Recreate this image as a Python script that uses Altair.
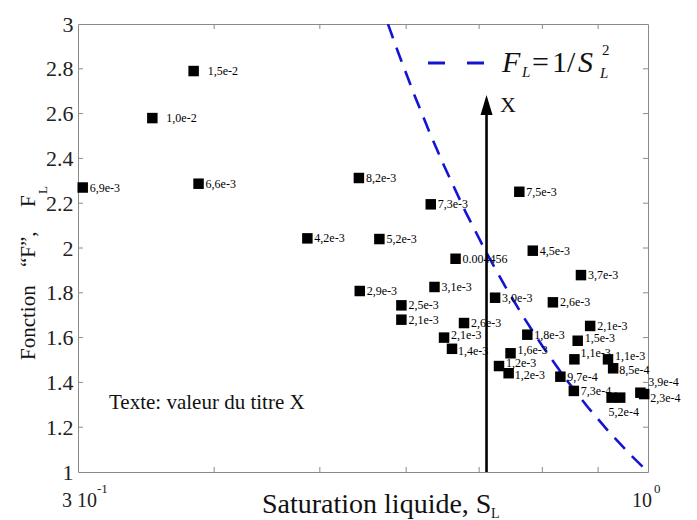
import altair as alt
import pandas as pd

# ---------------- data ----------------
S_L = [0.383, 0.351, 0.303, 0.387, 0.543, 0.487, 0.567, 0.632, 0.762, 0.784,
       0.666, 0.868, 0.544, 0.637, 0.724, 0.818, 0.594, 0.594, 0.678, 0.885,
       0.650, 0.661, 0.775, 0.862, 0.748, 0.856, 0.919, 0.929, 0.730, 0.745,
       0.831, 0.855, 0.926, 0.943, 0.984, 0.992]
F_L = [2.79, 2.58, 2.27, 2.287, 2.3125, 2.043, 2.04, 2.195, 2.251, 1.988,
       1.952, 1.879, 1.808, 1.826, 1.778, 1.7575, 1.744, 1.680, 1.665, 1.652,
       1.600, 1.550, 1.613, 1.586, 1.530, 1.503, 1.503, 1.463, 1.473, 1.441,
       1.4255, 1.362, 1.332, 1.332, 1.354, 1.348]
TITRE_X = ["1,5e-2", "1,0e-2", "6,9e-3", "6,6e-3", "8,2e-3", "4,2e-3", "5,2e-3",
           "7,3e-3", "7,5e-3", "4,5e-3", "0.004456", "3,7e-3", "2,9e-3", "3,1e-3",
           "3,0e-3", "2,6e-3", "2,5e-3", "2,1e-3", "2,6e-3", "2,1e-3", "2,1e-3",
           "1,4e-3", "1,8e-3", "1,5e-3", "1,6e-3", "1,1e-3", "1,1e-3", "8,5e-4",
           "1,2e-3", "1,2e-3", "9,7e-4", "7,3e-4", "5,2e-4", "", "3,9e-4", "2,3e-4"]
LABEL_SIDE = ["far", "far", "r", "r", "r", "r", "r", "r", "r", "r",
              "r", "r", "r", "r", "r", "r", "r", "r", "r", "r",
              "hi", "lo", "r", "hi", "hi", "up6", "hi", "lo", "hi", "lo",
              "r", "r", "down", "r", "up", "lo3"]

# theoretical curve F_L = 1/S_L^2, sampled S values
CURVE_S = [0.5774, 0.59, 0.61, 0.63, 0.65, 0.68, 0.71, 0.74, 0.77, 0.80,
           0.84, 0.88, 0.92, 0.96, 1.0]

ARROW_S = 0.711
ARROW_F0, ARROW_F1, ARROW_HEAD = 1.0, 2.6, 2.638

X_MINOR = [0.4, 0.5, 0.6, 0.7, 0.8, 0.9]
Y_MINOR = [1.2, 1.4, 1.6, 1.8, 2.0, 2.2, 2.4, 2.6, 2.8]
Y_LABELS = [1.0, 1.2, 1.4, 1.6, 1.8, 2.0, 2.2, 2.4, 2.6, 2.8, 3.0]
X_LABEL_S = [0.3, 1.0]
X_LABEL_BASE = ["3 10", "10"]
X_LABEL_EXP = ["-1", "0"]

# ---------------- chart ----------------
W, H = 570, 448
SERIF = "Liberation Serif"
BLUE = "#1414d2"
GRAY = "#8a8a8a"

xs = alt.Scale(type="log", domain=[0.3, 1.0], nice=False)
ys = alt.Scale(domain=[1, 3], nice=False, zero=False)
Y_AXIS = alt.Axis(values=Y_LABELS, format="~g", ticks=False, domain=False,
                  grid=False, title=None, labelFont=SERIF, labelFontSize=22,
                  labelColor="#222", labelPadding=5)


def X(field):
    return alt.X(field, scale=xs, axis=None)


def Y(field):
    return alt.Y(field, scale=ys, axis=Y_AXIS)


pts = pd.DataFrame({"S": S_L, "F": F_L, "label": TITRE_X, "side": LABEL_SIDE})
base = alt.Chart(pts)

squares = base.mark_square(size=110, color="black", opacity=1).encode(
    x=X("S:Q"), y=Y("F:Q"))

side_offsets = {"r": (7, 0), "far": (14, 0), "up": (8, -11), "up6": (6, -6),
                "down": (-3, 14), "hi": (7, -3), "lo": (6, 2), "lo3": (6, 4)}
label_layers = []
for side, (dx, dy) in side_offsets.items():
    label_layers.append(
        base.transform_filter(alt.datum.side == side).mark_text(
            align="left", baseline="middle", dx=dx, dy=dy, font=SERIF,
            fontSize=12, color="black").encode(
            x=X("S:Q"), y=Y("F:Q"), text="label:N")
    )

curve = alt.Chart(pd.DataFrame({"S": CURVE_S})).transform_calculate(
    F="1 / (datum.S * datum.S)"
).mark_line(color=BLUE, strokeWidth=2.6, strokeDash=[15, 10], clip=True).encode(
    x=X("S:Q"), y=Y("F:Q"))

arrow_df = pd.DataFrame({"S": [ARROW_S], "F0": [ARROW_F0], "F1": [ARROW_F1],
                         "Fh": [ARROW_HEAD]})
arrow_line = alt.Chart(arrow_df).mark_rule(color="black", strokeWidth=2.6).encode(
    x=X("S:Q"), y=Y("F0:Q"), y2="F1:Q")
arrow_head = alt.Chart(arrow_df).mark_point(
    shape="M0,-1L0.6,1L-0.6,1Z", size=400, filled=True, color="black", opacity=1
).encode(x=X("S:Q"), y=Y("Fh:Q"))

# inner ticks (MATLAB style) on all four sides
xt = alt.Chart(pd.DataFrame({"S": X_MINOR}))
yt = alt.Chart(pd.DataFrame({"F": Y_MINOR}))
tick_style = dict(color=GRAY, strokeWidth=1)
ticks = [
    xt.mark_rule(**tick_style).encode(x=X("S:Q"), y=alt.value(H), y2=alt.value(H - 5)),
    xt.mark_rule(**tick_style).encode(x=X("S:Q"), y=alt.value(0), y2=alt.value(5)),
    yt.mark_rule(**tick_style).encode(y=Y("F:Q"), x=alt.value(0), x2=alt.value(5)),
    yt.mark_rule(**tick_style).encode(y=Y("F:Q"), x=alt.value(W), x2=alt.value(W - 5)),
]

# x tick labels (3 10^-1 and 10^0)
xl = pd.DataFrame({"S": X_LABEL_S, "base": X_LABEL_BASE, "exp": X_LABEL_EXP})
xlc = alt.Chart(xl)
xlabels = [
    xlc.transform_filter(alt.datum.S < 0.5).mark_text(
        align="left", dx=-16, font=SERIF, fontSize=20, color="#222").encode(
        x=X("S:Q"), y=alt.value(H + 29), text="base:N"),
    xlc.transform_filter(alt.datum.S < 0.5).mark_text(
        align="left", dx=19, font=SERIF, fontSize=13, color="#222").encode(
        x=X("S:Q"), y=alt.value(H + 17), text="exp:N"),
    xlc.transform_filter(alt.datum.S > 0.5).mark_text(
        align="right", dx=4, font=SERIF, fontSize=20, color="#222").encode(
        x=X("S:Q"), y=alt.value(H + 29), text="base:N"),
    xlc.transform_filter(alt.datum.S > 0.5).mark_text(
        align="left", dx=6, font=SERIF, fontSize=13, color="#222").encode(
        x=X("S:Q"), y=alt.value(H + 17), text="exp:N"),
]


def note(text, x, y, size, style="normal", angle=0, align="left",
         baseline="alphabetic", color="#111"):
    return alt.Chart(pd.DataFrame({"t": [text]})).mark_text(
        font=SERIF, fontSize=size, fontStyle=style, angle=angle, align=align,
        baseline=baseline, color=color).encode(
        x=alt.value(x), y=alt.value(y), text="t:N")


notes = [
    # legend: F_L = 1/S_L^2
    note("F", 424, 48, 30, style="italic"),
    note("L", 444, 53, 15, style="italic"),
    note("=", 454, 48, 30),
    note("1/", 474, 48, 30),
    note("S", 500, 48, 30, style="italic"),
    note("2", 524, 31, 15),
    note("L", 522, 54, 15, style="italic"),
    # arrow label
    note("X", 422, 88, 22),
    # box text
    note("Texte: valeur du titre X", 31, 379, 21, baseline="middle"),
    # x title
    note("Saturation liquide, S", 184, 489, 28),
    note("L", 413, 494, 14),
    # y title (rotated)
    note("Fonction", -43, 336, 21, angle=270),
    note("\u201cF\u201d,", -43, 243, 21, angle=270),
    note("F", -43, 183, 21, angle=270),
    note("L", -31, 170, 13, angle=270),
]

legend_dash = alt.Chart(pd.DataFrame({"t": [0]})).mark_rule(
    color=BLUE, strokeWidth=3, strokeDash=[17, 22]).encode(
    x=alt.value(350), x2=alt.value(406), y=alt.value(39))

chart = alt.layer(
    curve, *ticks, arrow_line, arrow_head, squares, *label_layers,
    legend_dash, *xlabels, *notes,
).properties(
    width=W, height=H,
    autosize=alt.AutoSizeParams(type="none"),
    padding={"left": 78, "top": 24, "right": 49, "bottom": 48},
    background="white",
).configure_view(stroke=GRAY, strokeWidth=1)

chart.save("out.html", embed_options={"renderer": "svg", "actions": False})
